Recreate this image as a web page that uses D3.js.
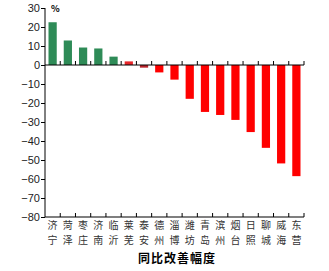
<!DOCTYPE html>
<html>
<head>
<meta charset="utf-8">
<script src="https://cdn.jsdelivr.net/npm/d3@7"></script>
<style>
body { margin: 0; background: #fff; }
svg text { font-family: "Noto Sans CJK SC", "DejaVu Sans", sans-serif; }
</style>
</head>
<body>
<div id="chart"></div>
<script>
var cities = ["济宁","菏泽","枣庄","济南","临沂","莱芜","泰安","德州","淄博","潍坊","青岛","滨州","烟台","日照","聊城","威海","东营"];
var values = [22.5, 12.9, 9.2, 8.7, 4.4, 1.9, -1.4, -3.9, -7.7, -17.8, -24.7, -26.3, -28.9, -35.3, -43.6, -51.8, -58.5];
var yTicks = [30, 20, 10, 0, -10, -20, -30, -40, -50, -60, -70, -80];

var width = 329, height = 271;
var plotLeft = 45, plotRight = 304, plotTop = 8, plotBottom = 217;

var svg = d3.select("#chart").append("svg")
    .attr("width", width)
    .attr("height", height);

var x = d3.scaleBand().domain(cities).range([plotLeft, plotRight]).paddingInner(0.46).paddingOuter(0.23);
var y = d3.scaleLinear().domain([-80, 30]).range([plotBottom, plotTop]);

function barColor(d, i) {
    if (d > 0 && i < 5) return "#2e8b57";
    if (cities[i] == "莱芜") return "#e8262a";
    if (cities[i] == "泰安") return "#b8242b";
    return "#ff0000";
}

// bars
svg.append("g").selectAll("rect")
    .data(values)
    .enter().append("rect")
    .attr("x", function (d, i) { return x(cities[i]); })
    .attr("width", x.bandwidth())
    .attr("y", function (d) { return y(Math.max(0, d)); })
    .attr("height", function (d) { return Math.abs(y(d) - y(0)); })
    .style("fill", barColor);

// y axis
var yAxis = svg.append("g")
    .attr("transform", "translate(" + plotLeft + ",0)")
    .call(d3.axisLeft(y).tickValues(yTicks).tickSize(4).tickFormat(function (d) { return d < 0 ? "\u2212" + (-d) : d; }));
yAxis.select(".domain").attr("stroke", "#000").attr("d", "M0," + plotTop + "V" + plotBottom);
yAxis.selectAll("text").style("font-family", "Arial, Liberation Sans, sans-serif").style("font-size", "11px").attr("fill", "#222").attr("x", -5);

// band boundary ticks on zero line and bottom line
var bounds = cities.map(function (c) { return x(c) - x.step() * x.paddingInner() / 2; }).slice(1);
bounds.push(plotRight);

[y(0), plotBottom].forEach(function (yy) {
    svg.append("line")
        .attr("x1", plotLeft).attr("x2", plotRight)
        .attr("y1", yy).attr("y2", yy)
        .attr("stroke", "#000").attr("stroke-width", 1.2);
    svg.append("g").selectAll("line")
        .data(bounds)
        .enter().append("line")
        .attr("x1", function (d) { return d; })
        .attr("x2", function (d) { return d; })
        .attr("y1", yy).attr("y2", yy - 4)
        .attr("stroke", "#000");
});

// category labels, two characters stacked
var lab = svg.append("g").selectAll("g")
    .data(cities)
    .enter().append("g");
lab.append("text")
    .attr("x", function (d) { return x(d) + x.bandwidth() / 2; })
    .attr("y", 229)
    .attr("text-anchor", "middle")
    .style("font-size", "10px")
    .attr("fill", "#333")
    .text(function (d) { return d.charAt(0); });
lab.append("text")
    .attr("x", function (d) { return x(d) + x.bandwidth() / 2; })
    .attr("y", 244)
    .attr("text-anchor", "middle")
    .style("font-size", "10px")
    .attr("fill", "#333")
    .text(function (d) { return d.charAt(1); });

// unit
svg.append("text")
    .attr("x", 51).attr("y", 12)
    .style("font-size", "9px").style("font-weight", "bold")
    .text("%");

// title
svg.append("text")
    .attr("x", 177).attr("y", 263)
    .attr("text-anchor", "middle")
    .style("font-size", "12px").style("font-weight", "bold")
    .style("letter-spacing", "1px")
    .text("同比改善幅度");
</script>
</body>
</html>
